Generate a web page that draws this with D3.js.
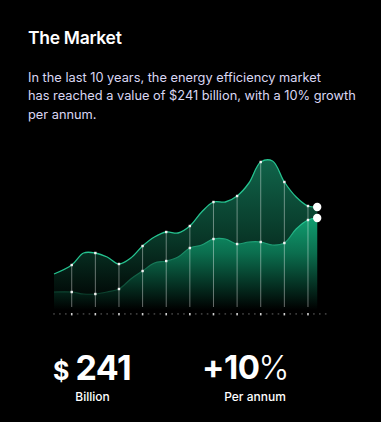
<!DOCTYPE html>
<html>
<head>
<meta charset="utf-8">
<script src="https://cdn.jsdelivr.net/npm/d3@7"></script>
<style>
  html, body { margin: 0; padding: 0; background: #000; }
  svg { display: block; font-family: Inter, "Noto Sans", sans-serif; }
</style>
</head>
<body>
<svg id="chart" width="381" height="422"></svg>
<script>
// positions along the x axis (whole numbers = years with a marker)
var steps = [0.25, 1, 1.5, 2, 2.5, 3, 3.5, 4, 4.5, 5, 5.5, 6, 6.5, 7, 7.5, 8, 8.5, 9, 9.5, 10, 10.5, 11, 11.39];
var marketValues = [36, 45, 57, 57, 53, 46, 52, 64, 73, 78, 77, 84, 98, 108, 108, 114, 127, 148, 149, 128, 113, 104, 103];
var growthValues = [18, 18, 16, 16, 18, 21, 31, 39, 47, 49, 53, 62, 65, 71, 71, 66, 68, 68, 65, 67, 81, 90, 92];
var years = [1, 2, 3, 4, 5, 6, 7, 8, 9, 10, 11];
var tickSteps = d3.range(0.25, 11.76, 0.25);

var paragraph = [
  "In the last 10 years, the energy efficiency market",
  "has reached a value of $241 billion, with a 10% growth",
  "per annum."
];

var svg = d3.select("#chart");

var x = d3.scaleLinear().domain([0.25, 11.75]).range([54, 325.7]);
var y = d3.scaleLinear().domain([0, 160]).range([310, 150]);

var upper = steps.map(function (s, i) { return { s: s, v: marketValues[i] }; });
var lower = steps.map(function (s, i) { return { s: s, v: growthValues[i] }; });

function valueAt(data, s) {
  return data.find(function (d) { return d.s === s; }).v;
}

// gradients
var defs = svg.append("defs");
var g1 = defs.append("linearGradient").attr("id", "upperFill")
  .attr("gradientUnits", "userSpaceOnUse").attr("x1", 0).attr("x2", 0).attr("y1", 160).attr("y2", 308);
g1.append("stop").attr("offset", "0%").attr("stop-color", "#10644a");
g1.append("stop").attr("offset", "55%").attr("stop-color", "#083526");
g1.append("stop").attr("offset", "100%").attr("stop-color", "#000");

var g2 = defs.append("linearGradient").attr("id", "lowerFill")
  .attr("gradientUnits", "userSpaceOnUse").attr("x1", 0).attr("x2", 0).attr("y1", 215).attr("y2", 310);
g2.append("stop").attr("offset", "0%").attr("stop-color", "#10a273");
g2.append("stop").attr("offset", "40%").attr("stop-color", "#0b6e4e");
g2.append("stop").attr("offset", "100%").attr("stop-color", "#000");

var g3 = defs.append("linearGradient").attr("id", "lowerStroke")
  .attr("gradientUnits", "userSpaceOnUse").attr("x1", 0).attr("x2", 0).attr("y1", 215).attr("y2", 295);
g3.append("stop").attr("offset", "0%").attr("stop-color", "#28d39d");
g3.append("stop").attr("offset", "100%").attr("stop-color", "#0b3d2b");

var curve = d3.curveCatmullRom.alpha(0.5);

var area = d3.area()
  .x(function (d) { return x(d.s); })
  .y0(y(0))
  .y1(function (d) { return y(d.v); })
  .curve(curve);

var line = d3.line()
  .x(function (d) { return x(d.s); })
  .y(function (d) { return y(d.v); })
  .curve(curve);

svg.append("path").datum(upper).attr("d", area).attr("fill", "url(#upperFill)");
svg.append("path").datum(lower).attr("d", area).attr("fill", "url(#lowerFill)");

// vertical guide lines
svg.selectAll(".guide").data(years).enter().append("line")
  .attr("class", "guide")
  .attr("x1", function (d) { return x(d); })
  .attr("x2", function (d) { return x(d); })
  .attr("y1", function (d) { return y(valueAt(upper, d)); })
  .attr("y2", 307)
  .attr("stroke", "rgba(255,255,255,0.4)")
  .attr("stroke-width", 1);

svg.append("path").datum(upper).attr("d", line)
  .attr("fill", "none").attr("stroke", "#25c28f").attr("stroke-width", 1.3);
svg.append("path").datum(lower).attr("d", line)
  .attr("fill", "none").attr("stroke", "url(#lowerStroke)").attr("stroke-width", 1.2);

// small markers on each year
[upper, lower].forEach(function (data) {
  svg.selectAll(null).data(years).enter().append("rect")
    .attr("x", function (d) { return x(d) - 1.2; })
    .attr("y", function (d) { return y(valueAt(data, d)) - 1.2; })
    .attr("width", 2.4).attr("height", 2.4)
    .attr("fill", "#f2f2f2");
});

// end points
var last = steps[steps.length - 1];
[marketValues[marketValues.length - 1], growthValues[growthValues.length - 1]].forEach(function (v) {
  svg.append("circle").attr("cx", x(last)).attr("cy", y(v)).attr("r", 4.2).attr("fill", "#fff");
});

// bottom tick row
svg.selectAll(".tick").data(tickSteps).enter().append("rect")
  .attr("class", "tick")
  .attr("x", function (d) { return x(d) - 0.8; })
  .attr("y", 313)
  .attr("width", 1.6)
  .attr("height", function (d) { return Number.isInteger(d) ? 2.4 : 1.8; })
  .attr("fill", function (d) { return Number.isInteger(d) ? "#d0d0d0" : "#3a3a3a"; });

// texts
svg.append("text").attr("x", 28).attr("y", 43.5)
  .attr("fill", "#fff").attr("font-size", 17.5).attr("font-weight", 600)
  .attr("letter-spacing", -0.3)
  .text("The Market");

svg.append("g").selectAll("text").data(paragraph).enter().append("text")
  .attr("x", 28)
  .attr("y", function (d, i) { return 81.7 + i * 18.4; })
  .attr("fill", "#dad7f3").attr("font-size", 12.8)
  .text(function (d) { return d; });

var big = svg.append("text").attr("x", 53).attr("y", 380).attr("fill", "#fff").attr("font-weight", 700);
big.append("tspan").attr("font-size", 25).text("$");
big.append("tspan").attr("dx", 6).attr("font-size", 34).attr("letter-spacing", -0.5).text("241");

svg.append("text").attr("x", 92.5).attr("y", 401).attr("text-anchor", "middle")
  .attr("fill", "#fff").attr("font-size", 12).attr("font-weight", 500).text("Billion");

var pct = svg.append("text").attr("x", 202).attr("y", 378.5).attr("fill", "#fff").attr("font-size", 33);
pct.append("tspan").attr("font-weight", 700).attr("letter-spacing", -0.5).text("+10");
pct.append("tspan").attr("dx", -1).attr("font-weight", 300).text("%");

svg.append("text").attr("x", 255).attr("y", 401).attr("text-anchor", "middle")
  .attr("fill", "#fff").attr("font-size", 12).attr("font-weight", 500).text("Per annum");
</script>
</body>
</html>
